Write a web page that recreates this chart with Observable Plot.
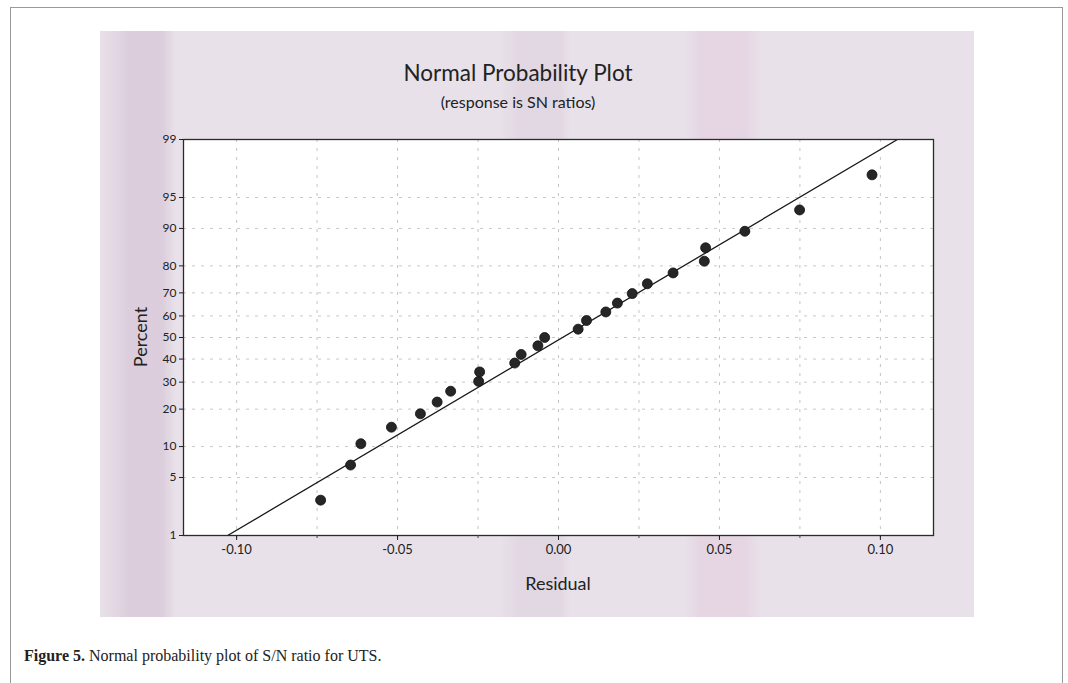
<!DOCTYPE html>
<html>
<head>
<meta charset="utf-8">
<script src="https://cdn.jsdelivr.net/npm/d3@7"></script>
<script src="https://cdn.jsdelivr.net/npm/@observablehq/plot@0.6"></script>
<style>
  html, body { margin: 0; padding: 0; background: #ffffff; }
  #page { position: relative; width: 1068px; height: 683px; overflow: hidden; background: #fff; }
  #outer { position: absolute; left: 10px; top: 7px; width: 1053px; height: 690px; border: 1px solid #9a9a9a; box-sizing: border-box; }
  #bg { position: absolute; left: 100px; top: 31px; width: 874px; height: 586px;
        background:
          linear-gradient(90deg, rgba(0,0,0,0) 0px, rgba(190,160,190,0.30) 30px, rgba(190,160,190,0.30) 62px, rgba(0,0,0,0) 75px,
                          rgba(0,0,0,0) 400px, rgba(200,175,200,0.20) 420px, rgba(200,175,200,0.20) 460px, rgba(0,0,0,0) 470px,
                          rgba(0,0,0,0) 585px, rgba(220,180,210,0.25) 600px, rgba(220,180,210,0.25) 645px, rgba(0,0,0,0) 660px),
          #e8e1e9; }
  .t { position: absolute; font-family: Lato, "Open Sans", sans-serif; color: #222; white-space: nowrap; }
  #title { left: 0; width: 1036px; top: 59px; text-align: center; font-size: 22.5px; }
  #subtitle { left: 0; width: 1036px; top: 92px; text-align: center; font-size: 16px; }
  #ylab { left: 140px; top: 337px; font-size: 18px; transform: translate(-50%, -50%) rotate(-90deg); }
  #xlab { left: 558px; top: 583px; font-size: 18px; transform: translate(-50%, -50%); }
  #caption { position: absolute; left: 24px; top: 647px; font-family: "Liberation Serif", "DejaVu Serif", serif; font-size: 16px; color: #222; }
  #chart { position: absolute; left: 0; top: 120px; }
  #chart svg { background: transparent !important; }
  #chart svg text { font-family: Lato, "Open Sans", sans-serif; }
</style>
</head>
<body>
<div id="page">
  <div id="outer"></div>
  <div id="bg"></div>
  <div class="t" id="title">Normal Probability Plot</div>
  <div class="t" id="subtitle">(response is SN ratios)</div>
  <div id="chart"></div>
  <div class="t" id="ylab">Percent</div>
  <div class="t" id="xlab">Residual</div>
  <div id="caption"><b>Figure 5.</b> Normal probability plot of S/N ratio for UTS.</div>
</div>
<script>
// Data
const residuals = [-0.0739, -0.0646, -0.0614, -0.0519, -0.0429, -0.0377, -0.0335, -0.0248, -0.0245,
  -0.0136, -0.0116, -0.0064, -0.0043, 0.0061, 0.0087, 0.0147, 0.0183, 0.0229, 0.0276, 0.0356,
  0.0453, 0.0457, 0.0579, 0.0749, 0.0974];
const percents = [2.8, 6.7, 10.6, 14.6, 18.5, 22.4, 26.4, 30.3, 34.3, 38.2, 42.1, 46.1, 50.0,
  53.9, 57.9, 61.8, 65.7, 69.7, 73.6, 77.6, 81.5, 85.4, 89.4, 93.3, 97.2];
// Fitted reference line (end points)
const fitResidual = [-0.1028, 0.1053];
const fitPercent = [1, 99];
// Axis ticks
const yTickPercents = [1, 5, 10, 20, 30, 40, 50, 60, 70, 80, 90, 95, 99];
const xTickValues = [-0.10, -0.05, 0.00, 0.05, 0.10];
const xGridValues = [-0.10, -0.075, -0.05, -0.025, 0.00, 0.025, 0.05, 0.075, 0.10];

// Probability-scale transform (inverse standard normal CDF, Acklam)
function probit(p) {
  const a = [-3.969683028665376e+01, 2.209460984245205e+02, -2.759285104469687e+02, 1.383577518672690e+02, -3.066479806614716e+01, 2.506628277459239e+00];
  const b = [-5.447609879822406e+01, 1.615858368580409e+02, -1.556989798598866e+02, 6.680131188771720e+01, -1.328068155288572e+01];
  const c = [-7.784894002430293e-03, -3.223964580411365e-01, -2.400758277161838e+00, -2.549671010229583e+00, 4.374664141464968e+00, 2.938163982698783e+00];
  const d = [7.784695709041462e-03, 3.224671290700398e-01, 2.445134137142996e+00, 3.754408661907416e+00];
  const plow = 0.02425, phigh = 1 - plow;
  let q, r;
  if (p < plow) {
    q = Math.sqrt(-2 * Math.log(p));
    return (((((c[0]*q+c[1])*q+c[2])*q+c[3])*q+c[4])*q+c[5]) / ((((d[0]*q+d[1])*q+d[2])*q+d[3])*q+1);
  } else if (p <= phigh) {
    q = p - 0.5; r = q * q;
    return (((((a[0]*r+a[1])*r+a[2])*r+a[3])*r+a[4])*r+a[5])*q / (((((b[0]*r+b[1])*r+b[2])*r+b[3])*r+b[4])*r+1);
  } else {
    q = Math.sqrt(-2 * Math.log(1 - p));
    return -(((((c[0]*q+c[1])*q+c[2])*q+c[3])*q+c[4])*q+c[5]) / ((((d[0]*q+d[1])*q+d[2])*q+d[3])*q+1);
  }
}
const pz = (pct) => probit(pct / 100);

const points = residuals.map((r, i) => ({residual: r, z: pz(percents[i])}));
const fit = fitResidual.map((r, i) => ({residual: r, z: pz(fitPercent[i])}));
const yTickZ = yTickPercents.map(pz);
const yLabelOf = new Map(yTickZ.map((z, i) => [z, String(yTickPercents[i])]));

const chart = Plot.plot({
  width: 1068,
  height: 490,
  marginLeft: 183,
  marginRight: 135,
  marginTop: 19,
  marginBottom: 75,
  style: {background: "transparent", fontSize: "12px", color: "#222"},
  x: {domain: [-0.1165, 0.1165]},
  y: {domain: [pz(1), pz(99)]},
  marks: [
    Plot.frame({fill: "white"}),
    Plot.ruleX(xGridValues, {stroke: "#c4c4c4", strokeWidth: 1, strokeDasharray: "3,6"}),
    Plot.ruleY(yTickZ, {stroke: "#c8c8c8", strokeWidth: 1, strokeDasharray: "3,6"}),
    Plot.line(fit, {x: "residual", y: "z", stroke: "#1a1a1a", strokeWidth: 1.3, clip: true}),
    Plot.dot(points, {x: "residual", y: "z", r: 5, fill: "#262626", stroke: "#111", strokeWidth: 0.8}),
    Plot.frame({stroke: "#2a2a2a", strokeWidth: 1.3}),
    Plot.axisX({ticks: xGridValues, tickSize: 3, tickFormat: () => "", label: null, stroke: "#444"}),
    Plot.axisX({ticks: xTickValues, tickSize: 5, tickPadding: 4, tickFormat: d => d.toFixed(2), label: null, fontSize: 13, fill: "#222"}),
    Plot.axisY({ticks: yTickZ, tickSize: 4, tickPadding: 3, tickFormat: z => yLabelOf.get(z), label: null, fontSize: 12, fill: "#222"})
  ]
});
document.getElementById("chart").appendChild(chart);
</script>
</body>
</html>
